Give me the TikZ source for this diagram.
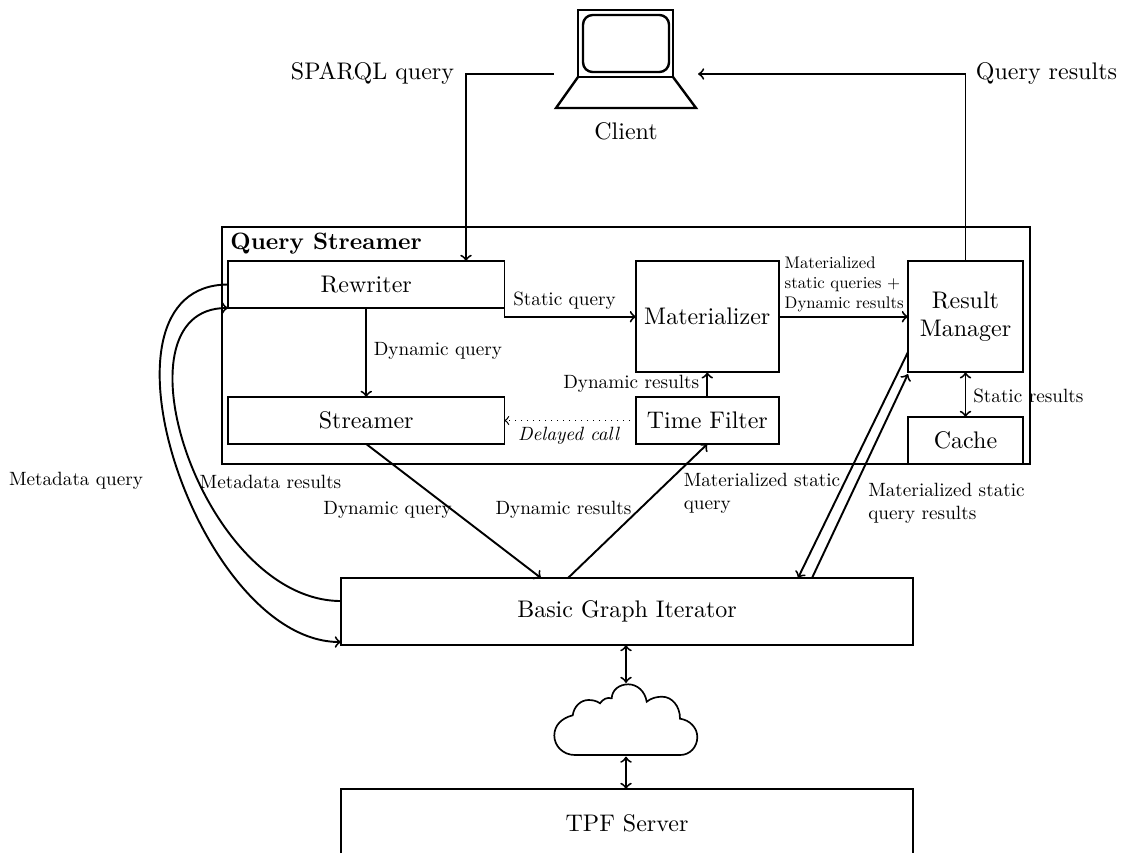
\documentclass[tikz,border=0pt]{standalone}
\begin{document}
\begin{tikzpicture}[x=0.4167pt,y=-0.4167pt,line width=0.8pt,
  box/.style={draw,inner sep=0pt,outer sep=0pt,align=center},
  conn/.style={->,>=to},
  both/.style={<->,>=to},
  lab/.style={inner sep=0pt,scale=0.8,align=left},
  big/.style={inner sep=0pt},
  tiny/.style={inner sep=0pt,scale=0.7,align=left}]
\useasboundingbox (0,0) rectangle (1130,853);
% outer frame
\node[box,minimum width=336.7pt,minimum height=98.75pt] (frame) at (626,345.5) {};
\node[inner sep=0pt,anchor=west,scale=0.985] (qs) at (229.5,244) {\textbf{Query Streamer}};
\node[box,minimum width=115.2pt,minimum height=19.6pt] (rw) at (366.25,284.5) {Rewriter};
\node[box,minimum width=59.4pt,minimum height=46.3pt] (mat) at (707.3,316.7) {Materializer};
\node[box,minimum width=47.9pt,minimum height=46.3pt] (rm) at (965.5,316.7) {Result\\Manager};
\node[box,minimum width=115.2pt,minimum height=19.6pt] (str) at (366.25,420.5) {Streamer};
\node[box,minimum width=59.4pt,minimum height=19.6pt] (tf) at (707.3,420.5) {Time Filter};
\node[box,minimum width=47.9pt,minimum height=19.6pt] (cache) at (965.5,440.5) {Cache};
\node[box,minimum width=238.3pt,minimum height=27.7pt] (bgi) at (627,611.3) {Basic Graph Iterator};
% TPF server, open at the bottom
\draw (341,853) -- (341,789) -- (913,789) -- (913,853);
\node[big] (tpf) at (627,823) {TPF Server};
% laptop
\draw[line width=1pt] (578,10) rectangle (673,77);
\draw[line width=1pt,rounded corners=4pt] (583,15) rectangle (669,72);
\draw[line width=1pt] (578,77) -- (556,108) -- (696,108) -- (673,77);
\node[big] (client) at (626,131) {Client};
\coordinate (cl) at (554,74);
\coordinate (cr) at (698,74);
% cloud
\draw[line width=0.7pt] (575,755) -- (680,755)
  .. controls (690,755) and (697.3,747) .. (697.3,737)
  .. controls (697.3,728) and (690,720) .. (680,718.7)
  .. controls (680,706) and (672,696.7) .. (662,696.7)
  .. controls (657,696.7) and (651,698) .. (646.7,701.7)
  .. controls (645,691) and (637,684.3) .. (628.3,684.3)
  .. controls (619,684.3) and (612,690) .. (611.7,698.3)
  .. controls (607,697) and (603,699) .. (600,703.3)
  .. controls (597,701) and (593,700) .. (588.5,700)
  .. controls (581,700) and (574,706) .. (572.7,715.3)
  .. controls (562,718) and (554.3,725) .. (554.3,735.5)
  .. controls (554.3,746) and (563,755) .. (575,755) -- cycle;
\coordinate (cloudt) at (626,683);
\coordinate (cloudb) at (626,756.5);
\coordinate (bgib) at (626,645);
\coordinate (tpft) at (626,789);
\coordinate (rwin) at (466,261);
\coordinate (bgi1) at (541,578);
\coordinate (bgi2) at (568,578);
\coordinate (bgi3) at (812,578);
\coordinate (bgi4) at (798,578);
\coordinate (rmin) at (908,374);
\coordinate (rmout) at (908,352);
\coordinate (bgi5) at (341,642);
\coordinate (bgi6) at (341,601);
\coordinate (rw2) at (228,308);
% connectors
\node[big,anchor=east] (sq) at (455,73) {SPARQL query};
\node[big,anchor=west] (qr) at (975,73) {Query results};
\draw[conn] (cl) -| (rwin);
\draw[conn] (rm.north) |- (cr);
\draw[conn] (rw.south) -- (str.north);
\node[lab,anchor=west] (l1) at (373,351) {Dynamic query};
\draw[conn] (rw.east) |- (mat.west);
\node[lab,anchor=west] (l2) at (512.5,301) {Static query};
\draw[conn] (mat.east) -- (rm.west);
\node[tiny,anchor=south west] (l3) at (784,313) {Materialized\\static queries +\\Dynamic results};
\draw[conn] (tf.north) -- (mat.south);
\node[lab,anchor=east] (l4) at (700,384) {Dynamic results};
\draw[->,>=to,dotted,line width=0.5pt] (tf.west) -- (str.east);
\node[lab,anchor=center] (l5) at (569,435.5) {\textit{Delayed call}};
\draw[both] (rm.south) -- (cache.north);
\node[lab,anchor=west] (l6) at (972.5,396) {Static results};
\draw[conn] (str.south) -- (bgi1);
\draw[conn] (bgi2) -- (tf.south);
\draw[conn] (bgi3) -- (rmin);
\draw[conn] (rmout) -- (bgi4);
\draw[conn] (rw.west) .. controls (80,285) and (198,642) .. (bgi5);
\draw[conn] (bgi6) .. controls (202,601) and (108,308) .. (rw2);
\draw[both] (bgib) -- (cloudt);
\draw[both] (cloudb) -- (tpft);
\node[lab,anchor=center] (l7) at (76,481) {Metadata query};
\node[lab,anchor=center] (l8) at (270.5,482) {Metadata results};
\node[lab,anchor=center] (l9) at (387.5,510) {Dynamic query};
\node[lab,anchor=center] (l10) at (563.5,509.5) {Dynamic results};
\node[lab,anchor=north west] (l11) at (683,472) {Materialized static\\query};
\node[lab,anchor=north west] (l12) at (867.5,482) {Materialized static\\query results};
\end{tikzpicture}
\end{document}
